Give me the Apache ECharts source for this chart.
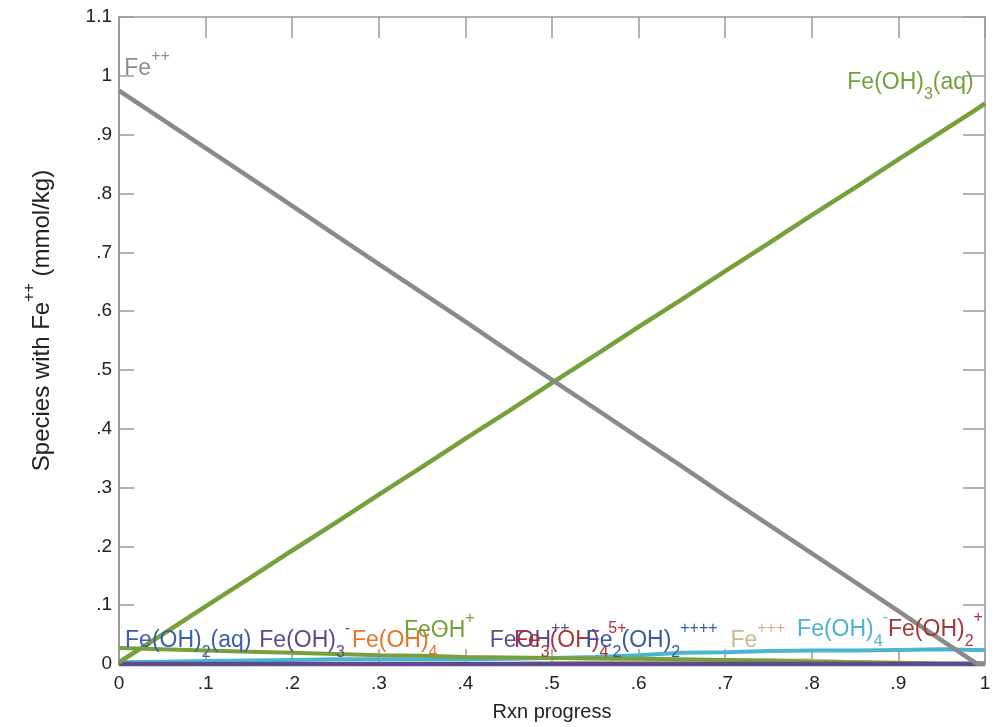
<!DOCTYPE html>
<html><head><meta charset="utf-8">
<script src="https://cdn.jsdelivr.net/npm/echarts@6/dist/echarts.min.js"></script>
<style>html,body{margin:0;padding:0;background:#fff}#c{width:1002px;height:727px}</style>
</head><body><div id="c"></div>
<script>
// ---- data ----
const progress    = [0, 0.05, 0.1, 0.15, 0.2, 0.25, 0.3, 0.35, 0.4, 0.45, 0.5, 0.55, 0.6, 0.65, 0.7, 0.75, 0.8, 0.85, 0.9, 0.95, 0.99, 1];
const feII        = [0.975, 0.926, 0.877, 0.828, 0.779, 0.729, 0.680, 0.631, 0.582, 0.532, 0.483, 0.434, 0.385, 0.336, 0.286, 0.237, 0.188, 0.139, 0.090, 0.040, 0.001, 0.0];
const feOH3aq     = [0.003, 0.050, 0.098, 0.145, 0.193, 0.240, 0.288, 0.335, 0.383, 0.430, 0.478, 0.525, 0.573, 0.620, 0.668, 0.715, 0.763, 0.810, 0.858, 0.905, 0.943, 0.953];
const feOHplus    = [0.027, 0.025, 0.023, 0.021, 0.019, 0.017, 0.015, 0.014, 0.012, 0.011, 0.010, 0.0095, 0.009, 0.008, 0.007, 0.006, 0.004, 0.003, 0.002, 0.001, 0.001, 0.001];
const feOH4minus  = [0.003, 0.004, 0.005, 0.006, 0.007, 0.008, 0.008, 0.008, 0.008, 0.009, 0.010, 0.012, 0.015, 0.019, 0.020, 0.022, 0.023, 0.023, 0.024, 0.025, 0.024, 0.024];
const fe3plus     = [0, 0, 0, 0, 0, 0, 0, 0, 0, 0.001, 0.002, 0.003, 0.004, 0.005, 0.006, 0.007, 0.007, 0.004, 0.002, 0.001, 0.001, 0.001];
const minorZero   = [0, 0, 0, 0, 0, 0, 0, 0, 0, 0, 0, 0, 0, 0, 0, 0, 0, 0, 0, 0, 0, 0];
const xTickLabels = ['0', '.1', '.2', '.3', '.4', '.5', '.6', '.7', '.8', '.9', '1'];
const yTickLabels = ['0', '.1', '.2', '.3', '.4', '.5', '.6', '.7', '.8', '.9', '1', '1.1'];
// species labels: [rich text, x, y, colour]
const speciesLabels = [
  ['{n|Fe}{sup|++}', 0.006, 1.012, '#8c8c8c'],
  ['{n|Fe(OH)}{sub|3}{n|(aq)}', 0.841, 0.988, '#74a03a'],
  ['{n|Fe(OH)}{sub|2}{n|(aq)}', 0.007, 0.039, '#3b60a8'],
  ['{n|Fe(OH)}{sub|3}{sup|-}', 0.162, 0.039, '#5a4c8c'],
  ['{n|Fe(OH)}{sub|4}{sup|--}', 0.269, 0.039, '#e8742a'],
  ['{n|FeOH}{sup|+}', 0.329, 0.056, '#74a03a'],
  ['{n|FeOH}{sup|++}', 0.428, 0.039, '#5c4e8e'],
  ['{n|Fe}{sub|3}{n|(OH)}{sub|4}{sup|5+}', 0.456, 0.039, '#ac3438'],
  ['{n|Fe}{sub|2}{n|(OH)}{sub|2}{sup|++++}', 0.539, 0.039, '#3858a2'],
  ['{n|Fe}{sup|+++}', 0.706, 0.039, '#c6b98e'],
  ['{n|Fe(OH)}{sub|4}{sup|-}', 0.783, 0.058, '#4ab3cf'],
  ['{n|Fe(OH)}{sub|2}{sup|+}', 0.888, 0.058, '#a4363c']
];

const FONT = '"Liberation Sans", Arial, sans-serif';
const AXC = '#9a9a9a';
const pair = vals => progress.map((x, i) => [x, vals[i]]);
const lineSeries = (name, vals, color, width) => ({
  name, type: 'line', data: pair(vals), symbol: 'none', clip: false,
  lineStyle: { color, width }, itemStyle: { color }, silent: true
});
const richStyles = {
  n:   { fontSize: 23, lineHeight: 40, verticalAlign: 'middle', fontFamily: FONT },
  sub: { fontSize: 16, lineHeight: 16, verticalAlign: 'bottom', fontFamily: FONT },
  sup: { fontSize: 16, lineHeight: 22, verticalAlign: 'top', fontFamily: FONT }
};

const chart = echarts.init(document.getElementById('c'), null, { renderer: 'canvas' });
chart.setOption({
  animation: false,
  backgroundColor: '#fff',
  textStyle: { fontFamily: FONT },
  grid: { left: 119, right: 17, top: 17, bottom: 63 },
  xAxis: [
    {
      type: 'value', min: 0, max: 1, interval: 0.1, position: 'bottom',
      axisLine: { show: true, onZero: false, lineStyle: { color: AXC, width: 2 } },
      axisTick: { show: true, inside: true, length: 15, lineStyle: { color: AXC, width: 1.5 } },
      axisLabel: { formatter: v => xTickLabels[Math.round(v * 10)], fontSize: 19, color: '#222', margin: 10, fontFamily: FONT },
      splitLine: { show: false },
      name: 'Rxn progress', nameLocation: 'middle', nameGap: 38,
      nameTextStyle: { fontSize: 20, color: '#222', fontFamily: FONT }
    },
    {
      type: 'value', min: 0, max: 1, interval: 0.1, position: 'top',
      axisLine: { show: true, onZero: false, lineStyle: { color: AXC, width: 1.5 } },
      axisTick: { show: true, inside: true, length: 21, lineStyle: { color: AXC, width: 1.5 } },
      axisLabel: { show: false }, splitLine: { show: false }
    }
  ],
  yAxis: [
    {
      type: 'value', min: 0, max: 1.1, interval: 0.1, position: 'left',
      axisLine: { show: true, onZero: false, lineStyle: { color: AXC, width: 2 } },
      axisTick: { show: true, inside: true, length: 15, lineStyle: { color: AXC, width: 1.5 } },
      axisLabel: { formatter: v => yTickLabels[Math.round(v * 10)], fontSize: 19, color: '#222', margin: 7, fontFamily: FONT },
      splitLine: { show: false },
      name: '{n|Species with Fe}{sup|++}{n| (mmol/kg)}', nameLocation: 'middle', nameGap: 57,
      nameTextStyle: {
        color: '#222', fontFamily: FONT, padding: [0, 0, 0, 40],
        rich: {
          n: { fontSize: 24, lineHeight: 40, verticalAlign: 'middle', color: '#222', fontFamily: FONT },
          sup: { fontSize: 16, lineHeight: 22, verticalAlign: 'top', color: '#222', fontFamily: FONT }
        }
      }
    },
    {
      type: 'value', min: 0, max: 1.1, interval: 0.1, position: 'right',
      axisLine: { show: true, onZero: false, lineStyle: { color: AXC, width: 1.5 } },
      axisTick: { show: true, inside: true, length: 22, lineStyle: { color: AXC, width: 1.5 } },
      axisLabel: { show: false }, splitLine: { show: false }
    }
  ],
  series: [
    lineSeries('Fe(OH)4-', feOH4minus, '#4bb4d0', 4),
    lineSeries('Fe+++', fe3plus, '#c9bc92', 3),
    lineSeries('FeOH+', feOHplus, '#77a03c', 4),
    lineSeries('minor species', minorZero, '#5e4b8b', 4.5),
    lineSeries('Fe(OH)3(aq)', feOH3aq, '#77a03c', 4.5),
    lineSeries('Fe++', feII, '#8a8a8a', 4.5),
    {
      name: 'labels', type: 'scatter', symbolSize: 0, silent: true, z: 5,
      itemStyle: { opacity: 1 },
      data: speciesLabels.map(l => ({
        value: [l[1], l[2]],
        itemStyle: { opacity: 1 },
        label: { show: true, opacity: 1, position: 'right', distance: 0, formatter: l[0], color: l[3], rich: richStyles }
      })),
      label: { show: true, opacity: 1, position: 'right', distance: 0, fontFamily: FONT }
    }
  ]
});
</script>
</body></html>
